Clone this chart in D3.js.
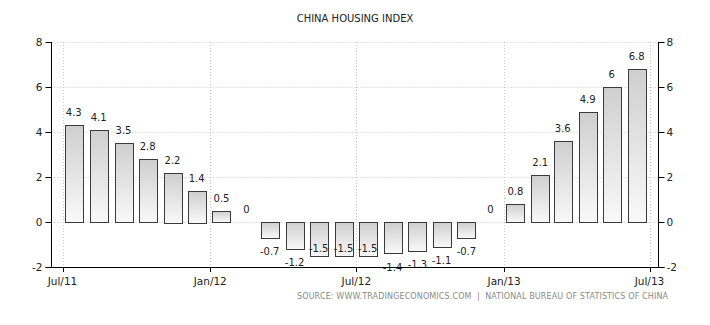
<!DOCTYPE html>
<html>
<head>
<meta charset="utf-8">
<script src="https://cdn.jsdelivr.net/npm/d3@7"></script>
<style>
  html, body { margin: 0; padding: 0; background: #fff; }
  svg { display: block; }
  text { font-family: "DejaVu Sans", Verdana, sans-serif; }
</style>
</head>
<body>
<svg id="chart" width="710" height="325"></svg>
<script>
const title = "CHINA HOUSING INDEX";
const source = "SOURCE: WWW.TRADINGECONOMICS.COM  |  NATIONAL BUREAU OF STATISTICS OF CHINA";
const months = ["2011-07","2011-08","2011-09","2011-10","2011-11","2011-12",
                "2012-01","2012-02","2012-03","2012-04","2012-05","2012-06",
                "2012-07","2012-08","2012-09","2012-10","2012-11","2012-12",
                "2013-01","2013-02","2013-03","2013-04","2013-05","2013-06"];
const values = [4.3, 4.1, 3.5, 2.8, 2.2, 1.4, 0.5, 0, -0.7, -1.2, -1.5, -1.5,
                -1.5, -1.4, -1.3, -1.1, -0.7, 0, 0.8, 2.1, 3.6, 4.9, 6, 6.8];
const yTicks = [-2, 0, 2, 4, 6, 8];
const xTickDates = ["2011-07-01", "2012-01-01", "2012-07-01", "2013-01-01", "2013-07-01"];
const xTickLabels = ["Jul/11", "Jan/12", "Jul/12", "Jan/13", "Jul/13"];

(function () {
const parseDay = d3.timeParse("%Y-%m-%d");
const parseMonth = d3.timeParse("%Y-%m");
const svg = d3.select("#chart");

const pLeft = 51.5, pRight = 658.5, pTop = 42, pBottom = 267;
const x = d3.scaleTime()
  .domain([parseDay("2011-07-01"), parseDay("2013-07-01")])
  .range([62.5, 649.5]);
const y = d3.scaleLinear().domain([-2, 8]).range([pBottom, pTop]);
const barW = 18;
const mid = m => d3.timeDay.offset(parseMonth(m), 14);

const defs = svg.append("defs");
const grad = defs.append("linearGradient").attr("id", "barGrad")
  .attr("x1", 0).attr("y1", 0).attr("x2", 0).attr("y2", 1);
grad.append("stop").attr("offset", "0%").attr("stop-color", "#cfcfcf");
grad.append("stop").attr("offset", "100%").attr("stop-color", "#f9f9f9");

svg.append("text").attr("x", 355).attr("y", 22).attr("text-anchor", "middle")
  .attr("font-size", 10).attr("fill", "#222").text(title);

const grid = svg.append("g").attr("stroke", "#c8c8c8").attr("stroke-dasharray", "1,2").attr("stroke-width", 1);
yTicks.filter(t => t > -2).forEach(t => {
  grid.append("line").attr("x1", pLeft).attr("x2", pRight)
    .attr("y1", Math.round(y(t)) + 0.5).attr("y2", Math.round(y(t)) + 0.5);
});
xTickDates.forEach(d => {
  const xx = Math.round(x(parseDay(d))) + 0.5;
  grid.append("line").attr("x1", xx).attr("x2", xx).attr("y1", pTop).attr("y2", pBottom);
});

const bars = svg.append("g");
months.forEach((m, i) => {
  const v = values[i];
  if (v === 0) return;
  const cx = x(mid(m));
  const y0 = y(0), y1 = y(v);
  bars.append("rect")
    .attr("x", Math.round(cx - barW / 2) + 0.5)
    .attr("y", Math.round(Math.min(y0, y1)) + 0.5)
    .attr("width", barW)
    .attr("height", Math.round(Math.abs(y1 - y0)))
    .attr("fill", "url(#barGrad)")
    .attr("stroke", "#3a3a3a").attr("stroke-width", 1);
});

const labels = svg.append("g").attr("font-size", 10).attr("fill", "#222").attr("text-anchor", "middle");
months.forEach((m, i) => {
  const v = values[i];
  const cx = x(mid(m));
  let ly;
  if (v >= 0) {
    ly = y(v) - 9;
  } else {
    ly = y(v) + 17;
    if (ly > pBottom + 4) ly = y(v) - 4;
  }
  labels.append("text").attr("x", cx).attr("y", ly).text(String(v));
});

const axisG = svg.append("g").attr("stroke", "#000").attr("stroke-width", 1);
axisG.append("line").attr("x1", pLeft).attr("x2", pLeft).attr("y1", pTop).attr("y2", pBottom + 0.5);
axisG.append("line").attr("x1", pRight).attr("x2", pRight).attr("y1", pTop).attr("y2", pBottom + 0.5);
axisG.append("line").attr("x1", pLeft - 6).attr("x2", pRight + 6).attr("y1", pBottom + 0.5).attr("y2", pBottom + 0.5);
yTicks.forEach(t => {
  const yy = Math.round(y(t)) + 0.5;
  axisG.append("line").attr("x1", pLeft - 6).attr("x2", pLeft).attr("y1", yy).attr("y2", yy);
  axisG.append("line").attr("x1", pRight).attr("x2", pRight + 6).attr("y1", yy).attr("y2", yy);
});
xTickDates.forEach(d => {
  const xx = Math.round(x(parseDay(d))) + 0.5;
  axisG.append("line").attr("x1", xx).attr("x2", xx).attr("y1", pBottom).attr("y2", pBottom + 5);
});

const tl = svg.append("g").attr("font-size", 10.5).attr("fill", "#222");
yTicks.forEach(t => {
  tl.append("text").attr("x", pLeft - 9).attr("y", y(t) + 4).attr("text-anchor", "end").text(t);
  tl.append("text").attr("x", pRight + 8).attr("y", y(t) + 4).attr("text-anchor", "start").text(t);
});
xTickDates.forEach((d, i) => {
  tl.append("text").attr("x", x(parseDay(d))).attr("y", 285).attr("text-anchor", "middle").text(xTickLabels[i]);
});

svg.append("text").attr("x", 668).attr("y", 299).attr("text-anchor", "end")
  .attr("font-size", 8).attr("fill", "#8a8a8a")
  .attr("textLength", 371).attr("lengthAdjust", "spacing")
  .attr("xml:space", "preserve")
  .text(source);
})();
</script>
</body>
</html>
